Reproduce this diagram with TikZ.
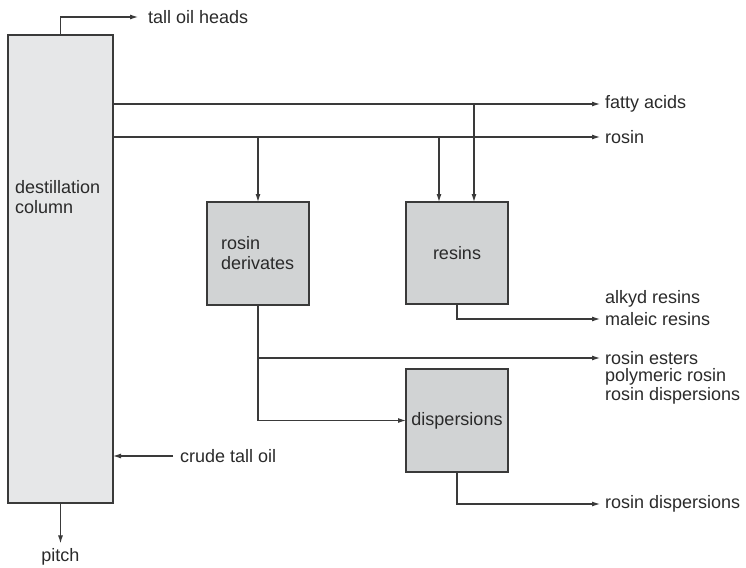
\documentclass[tikz,border=0pt]{standalone}
\usepackage{fontspec}
\setmainfont{Liberation Sans}
\usetikzlibrary{arrows.meta}
\definecolor{colfill}{HTML}{E6E7E8}
\definecolor{boxfill}{HTML}{D1D3D4}
\definecolor{linec}{HTML}{3A3A3A}
\definecolor{txtc}{HTML}{2A2A2A}
\tikzset{
  unit/.style={draw=linec, line width=1.2pt, inner sep=0pt, outer sep=0pt, anchor=north west},
  colbox/.style={unit, fill=colfill},
  procbox/.style={unit, fill=boxfill},
  lbl/.style={anchor=west, inner sep=0pt, text=txtc, font=\fontsize{18}{20}\selectfont, align=left},
  flow/.style={draw=linec, line width=1.1pt},
  arr/.style={flow, -{Latex[length=8pt,width=5pt]}},
}
\begin{document}
\begin{tikzpicture}[x=1pt,y=-1pt]
\useasboundingbox (0,0) rectangle (746,567);
% units
\node[colbox, minimum width=105pt, minimum height=468pt] (col) at (8,35) {};
\node[lbl] (coltext) at (15,197) {destillation\\column};
\node[procbox, minimum width=102pt, minimum height=103pt] (rd) at (207,202) {};
\node[lbl] (rdtext) at (221,253.5) {rosin\\derivates};
\node[procbox, minimum width=102pt, minimum height=102pt] (res) at (406,202) {};
\node[lbl, anchor=center] (restext) at (res.center) {resins};
\node[procbox, minimum width=102pt, minimum height=103pt] (disp) at (406,369) {};
\node[lbl, anchor=center] (disptext) at (disp.center) {dispersions};
% labels
\node[lbl] (toh) at (148,17) {tall oil heads};
\node[lbl] (fatty) at (605,104) {fatty acids};
\node[lbl] (rosin) at (605,137) {rosin};
\node[lbl] (alkyd) at (605,299) {alkyd resins};
\node[lbl] (maleic) at (605,319) {maleic resins};
\node[lbl] (esters) at (605,358) {rosin esters};
\node[lbl] (polym) at (605,377) {polymeric rosin};
\node[lbl] (rdisp1) at (605,396) {rosin dispersions};
\node[lbl] (rdisp2) at (605,504) {rosin dispersions};
\node[lbl] (crude) at (180,456) {crude tall oil};
\node[lbl, anchor=center] (pitch) at (60.5,557) {pitch};
% connectors
\draw[arr] (col.north) |- ([xshift=-10pt]toh.west);
\draw[arr] (col.east |- fatty.west) -- ([xshift=-5pt]fatty.west);
\draw[arr] (col.east |- rosin.west) -- ([xshift=-5pt]rosin.west);
\draw[arr] (rd.north |- rosin.west) -- (rd.north);
\draw[arr] ([xshift=-18pt]res.north |- rosin.west) -- ([xshift=-18pt]res.north);
\draw[arr] ([xshift=17pt]res.north |- fatty.west) -- ([xshift=17pt]res.north);
\draw[arr] (res.south) |- ([xshift=-5pt]maleic.west);
\draw[arr] (rd.south) |- ([xshift=-5pt]esters.west);
\draw[arr] (rd.south |- esters.west) |- (disp.west);
\draw[arr] (disp.south) |- ([xshift=-5pt]rdisp2.west);
\draw[arr] ([xshift=-7pt]crude.west) -- (col.east |- crude.west);
\draw[arr] (col.south) -- ([yshift=5pt]pitch.north);
\end{tikzpicture}
\end{document}
